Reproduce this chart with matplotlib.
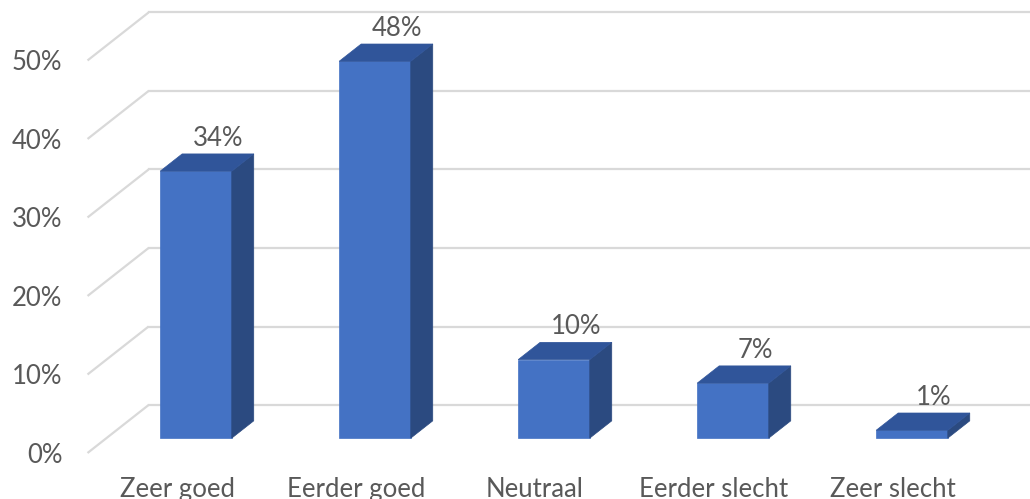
import matplotlib
matplotlib.use('Agg')
import matplotlib.pyplot as plt
from matplotlib.patches import Polygon

# Data
categories = ['Zeer goed', 'Eerder goed', 'Neutraal', 'Eerder slecht', 'Zeer slecht']
values = [34, 48, 10, 7, 1]
y_ticks = [0, 10, 20, 30, 40, 50]

# Look
front_color = '#4472C4'
side_color = '#2B4A80'
top_color = '#30559A'
grid_color = '#D9D9D9'
text_color = '#595959'
plt.rcParams['font.family'] = ['Lato', 'DejaVu Sans']
fs = 18.5

# oblique depth of the floor, in data units (category, percent)
depth_dx = 0.341
depth_dy = 6.11
bar_front = 0.31
bar_back = 0.67
bar_width = 0.40

fig = plt.figure(figsize=(10.30, 4.99), dpi=100)
ax = fig.add_axes([0, 0, 1, 1])
ax.set_xlim(-0.989, 4.765)
ax.set_ylim(-5.86, 57.7)
ax.axis('off')

# Gridlines: front diagonal + back horizontal
x_left = -0.5
for t in y_ticks:
    ax.plot([x_left, x_left + depth_dx], [t, t + depth_dy], color=grid_color, lw=1.6,
            solid_capstyle='butt', zorder=1)
    ax.plot([x_left + depth_dx, 5.0], [t + depth_dy, t + depth_dy], color=grid_color,
            lw=1.6, zorder=1)
    ax.annotate('%d%%' % t, (x_left, t), xytext=(-18, -7), textcoords='offset points',
                ha='right', va='baseline', fontsize=fs, color=text_color)


def draw_bar(i, v):
    fx = i + bar_front * depth_dx - bar_width / 2
    fy = bar_front * depth_dy
    bx = fx + (bar_back - bar_front) * depth_dx
    by = fy + (bar_back - bar_front) * depth_dy
    w = bar_width
    ax.add_patch(Polygon([(fx, fy), (fx + w, fy), (fx + w, fy + v), (fx, fy + v)],
                         closed=True, facecolor=front_color, edgecolor=front_color,
                         lw=0.5, zorder=3))
    ax.add_patch(Polygon([(fx + w, fy), (bx + w, by), (bx + w, by + v), (fx + w, fy + v)],
                         closed=True, facecolor=side_color, edgecolor=side_color,
                         lw=0.5, zorder=3))
    ax.add_patch(Polygon([(fx, fy + v), (fx + w, fy + v), (bx + w, by + v), (bx, by + v)],
                         closed=True, facecolor=top_color, edgecolor=top_color,
                         lw=0.5, zorder=3))
    ax.annotate('%d%%' % v, (bx + w / 2, by + v), xytext=(0, 6), textcoords='offset points',
                ha='center', va='baseline', fontsize=fs, color=text_color, zorder=4)


for i, v in enumerate(values):
    draw_bar(i, v)

for i, c in enumerate(categories):
    ax.annotate(c, (i, 0), xytext=(0, -31.5), textcoords='offset points',
                ha='center', va='baseline', fontsize=fs, color=text_color)

fig.savefig('out.png', dpi=100, facecolor='white')
